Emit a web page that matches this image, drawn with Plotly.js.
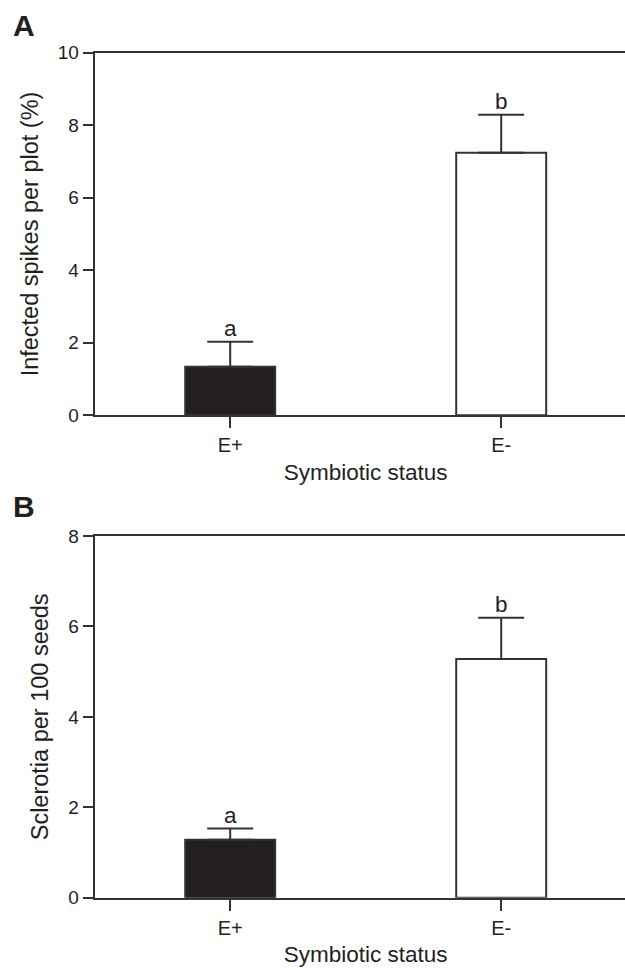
<!DOCTYPE html>
<html>
<head>
<meta charset="utf-8">
<script src="https://cdn.plot.ly/plotly-3.0.1.min.js"></script>
<style>
html, body { margin: 0; padding: 0; overflow: hidden; background: #fff; }
#chart { width: 660px; height: 968px; }
</style>
</head>
<body>
<div id="chart"></div>
<script>
// ---- data ----
const categories = ["E+", "E-"];
const spikesMean = [1.34, 7.24];
const spikesErr = [0.69, 1.05];
const spikesLetters = ["a", "b"];
const sclerotiaMean = [1.28, 5.28];
const sclerotiaErr = [0.25, 0.91];
const sclerotiaLetters = ["a", "b"];
const panelLabels = ["A", "B"];
const xTitle = "Symbiotic status";
const yTitleA = "Infected spikes per plot (%)";
const yTitleB = "Sclerotia per 100 seeds";

// ---- layout geometry ----
const W = 660, H = 968;
const plotLeft = 94.7, plotRight = 636.7;
const ink = "#231f20";
const lineCol = "#333333";
const fontFam = "'Liberation Sans', Arial, Helvetica, sans-serif";
const barColors = [ink, "#ffffff"];

function barTrace(y, err, xa, ya) {
  return {
    type: "bar", x: categories, y: y, xaxis: xa, yaxis: ya,
    width: 0.332,
    marker: { color: barColors, line: { color: lineCol, width: 2 } },
    error_y: { type: "data", array: err, arrayminus: err.map(() => 0), symmetric: false,
               color: lineCol, thickness: 2, width: 23 },
    hoverinfo: "none", showlegend: false
  };
}

const data = [
  barTrace(spikesMean, spikesErr, "x", "y"),
  barTrace(sclerotiaMean, sclerotiaErr, "x2", "y2")
];

function xAxis(domainAnchor) {
  return {
    anchor: domainAnchor,
    domain: [plotLeft / W, plotRight / W],
    range: [-0.5, 1.5], type: "category",
    showline: true, mirror: true, linecolor: lineCol, linewidth: 2,
    ticks: "outside", ticklen: 11, tickwidth: 2, tickcolor: lineCol,
    tickfont: { family: fontFam, size: 20, color: ink },
    showgrid: false, zeroline: false, fixedrange: true,
    title: { text: xTitle, font: { family: fontFam, size: 22.5, color: ink }, standoff: 9 },
    automargin: false
  };
}
function yAxis(domainAnchor, top, bottom, maxV, dtick, titleText) {
  return {
    anchor: domainAnchor,
    domain: [(H - bottom) / H, (H - top) / H],
    range: [0, maxV], dtick: dtick, tick0: 0,
    showline: true, linecolor: lineCol, linewidth: 2,
    ticks: "outside", ticklen: 10, tickwidth: 2, tickcolor: lineCol,
    tickfont: { family: fontFam, size: 19, color: ink },
    showgrid: false, zeroline: false, fixedrange: true,
    title: { text: titleText, font: { family: fontFam, size: 23.5, color: ink }, standoff: 13 },
    automargin: false
  };
}

const annotations = [];
spikesLetters.forEach((t, i) => annotations.push({
  xref: "x", yref: "y", x: categories[i], y: spikesMean[i] + spikesErr[i],
  text: t, showarrow: false, yanchor: "bottom", yshift: -1,
  font: { family: fontFam, size: 22.5, color: ink }
}));
sclerotiaLetters.forEach((t, i) => annotations.push({
  xref: "x2", yref: "y2", x: categories[i], y: sclerotiaMean[i] + sclerotiaErr[i],
  text: t, showarrow: false, yanchor: "bottom", yshift: -1,
  font: { family: fontFam, size: 22.5, color: ink }
}));
[[panelLabels[0], 26], [panelLabels[1], 506]].forEach(([t, py]) => annotations.push({
  xref: "paper", yref: "paper", x: 11 / W, y: (H - py) / H,
  xanchor: "left", yanchor: "middle", text: "<b>" + t + "</b>", showarrow: false,
  font: { family: fontFam, size: 30, color: ink }
}));

const layout = {
  width: W, height: H,
  margin: { l: 0, r: 0, t: 0, b: 0 },
  paper_bgcolor: "#ffffff", plot_bgcolor: "#ffffff",
  font: { family: fontFam, color: ink },
  xaxis: xAxis("y"),
  yaxis: yAxis("x", 52.7, 415.3, 10, 2, yTitleA),
  xaxis2: xAxis("y2"),
  yaxis2: yAxis("x2", 536, 897.7, 8, 2, yTitleB),
  annotations: annotations,
  showlegend: false
};

Plotly.newPlot("chart", data, layout, { staticPlot: true, displayModeBar: false });
</script>
</body>
</html>
